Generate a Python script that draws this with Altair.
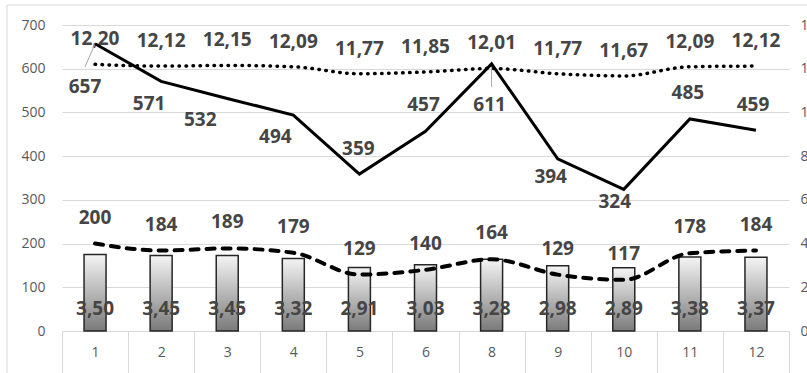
import altair as alt
import pandas as pd

# ---- data ----
CATS = ["1", "2", "3", "4", "5", "6", "8", "9", "10", "11", "12"]
BAR_VALUES = [3.50, 3.45, 3.45, 3.32, 2.91, 3.03, 3.28, 2.98, 2.89, 3.38, 3.37]          # right axis
DOTTED_VALUES = [12.20, 12.12, 12.15, 12.09, 11.77, 11.85, 12.01, 11.77, 11.67, 12.09, 12.12]  # right axis
SOLID_VALUES = [657, 571, 532, 494, 359, 457, 611, 394, 324, 485, 459]                    # left axis
DASHED_VALUES = [200, 184, 189, 179, 129, 140, 164, 129, 117, 178, 184]                   # left axis
LEFT_TICKS = [0, 100, 200, 300, 400, 500, 600, 700]
RIGHT_TICKS = [0, 2, 4, 6, 8, 10, 12, 14]


def comma(v):
    return f"{v:.2f}".replace(".", ",")


df = pd.DataFrame({
    "cat": CATS,
    "idx": list(range(len(CATS))),
    "bar": BAR_VALUES,
    "dotted": DOTTED_VALUES,
    "solid": SOLID_VALUES,
    "dashed": DASHED_VALUES,
    "bar_lbl": [comma(v) for v in BAR_VALUES],
    "dotted_lbl": [comma(v) for v in DOTTED_VALUES],
    "solid_lbl": [str(v) for v in SOLID_VALUES],
    "dashed_lbl": [str(v) for v in DASHED_VALUES],
})

# ---- styling ----
FONT = "Open Sans"
LBL_COLOR = "#454545"
AX_COLOR = "#595959"
GRID = "#d9d9d9"
LBL_SIZE = 19

# label placement for the solid series (dx, dy) per point index
SOLID_OFFSETS = [(-10, 43), (-12, 23), (-27, 22), (-18, 22), (-1, -25), (-2, -26),
                 (-2, 41), (-7, 18), (-9, 13), (-2, -26), (-3, -25)]
# leader lines (point index -> end offset dx, dy from the point)
LEADERS = {0: (-10, 23), 6: (0, 23)}

base = alt.Chart(df)
xscale = alt.Scale(paddingInner=0, paddingOuter=0)
XAXIS = alt.Axis(title=None, orient="bottom", domainColor=GRID, domainWidth=1,
                 ticks=True, tickBand="extent", tickSize=45, tickColor=GRID,
                 tickWidth=1, labelAngle=0, labelFont=FONT, labelFontSize=14,
                 labelColor=AX_COLOR, labelBaseline="middle", labelPadding=-24,
                 grid=False)
xenc = alt.X("cat:N", sort=CATS, scale=xscale, axis=XAXIS)

yl_scale = alt.Scale(domain=[0, 700], nice=False, zero=True)
yr_scale = alt.Scale(domain=[0, 14], nice=False, zero=True)


def yl(field):
    return alt.Y(field, type="quantitative", scale=yl_scale, axis=None)


def yr(field):
    return alt.Y(field, type="quantitative", scale=yr_scale, axis=None)


# ---------- left-scale layers ----------
gridlayer = base.mark_line(opacity=0).encode(
    x=xenc,
    y=alt.Y("solid:Q", scale=yl_scale,
            axis=alt.Axis(title=None, orient="left", values=LEFT_TICKS, grid=True,
                          gridColor=GRID, gridWidth=1, domain=False, ticks=False,
                          labelFont=FONT, labelFontSize=14, labelColor=AX_COLOR,
                          labelPadding=17)))

border = alt.Chart(pd.DataFrame({"k": [0]})).mark_rect(
    filled=False, stroke=GRID, strokeWidth=1).encode(
    x=alt.value(-55), x2=alt.value(780), y=alt.value(-20), y2=alt.value(420))

leaders = []
for i, (ldx, ldy) in LEADERS.items():
    leaders.append(
        base.transform_filter(alt.datum.idx == i).mark_rule(
            color="#a6a6a6", strokeWidth=1, x2Offset=ldx, y2Offset=ldy).encode(
            x=xenc, x2=alt.X2("cat"), y=yl("solid"), y2=alt.Y2("solid")))

solid = base.mark_line(color="black", strokeWidth=3).encode(x=xenc, y=yl("solid"))

solid_labels = []
for i, (dx, dy) in enumerate(SOLID_OFFSETS):
    solid_labels.append(
        base.transform_filter(alt.datum.idx == i).mark_text(
            font=FONT, fontSize=LBL_SIZE, fontWeight="bold", color=LBL_COLOR,
            baseline="middle", dx=dx, dy=dy).encode(
            x=xenc, y=yl("solid"), text="solid_lbl:N"))

dashed = base.mark_line(color="black", strokeWidth=4, strokeDash=[8, 8],
                        strokeCap="round", interpolate="monotone").encode(
    x=xenc, y=yl("dashed"))
dashed_labels = base.mark_text(font=FONT, fontSize=LBL_SIZE, fontWeight="bold",
                               color=LBL_COLOR, baseline="middle", dy=-26).encode(
    x=xenc, y=yl("dashed"), text="dashed_lbl:N")

# ---------- right-scale layers ----------
grad = alt.Gradient(gradient="linear",
                    stops=[alt.GradientStop(color="#f4f4f4", offset=0),
                           alt.GradientStop(color="#7a7a7a", offset=1)],
                    x1=0, x2=0, y1=0, y2=1)

bars = base.mark_bar(size=22, fill=grad, stroke="#262626", strokeWidth=1.5).encode(
    x=xenc,
    y=alt.Y("bar:Q", scale=yr_scale,
            axis=alt.Axis(title=None, orient="right", values=RIGHT_TICKS, grid=False,
                          domain=False, ticks=False, labelFont=FONT, labelFontSize=14,
                          labelColor=AX_COLOR, labelPadding=11)),
)
bar_labels = base.mark_text(font=FONT, fontSize=LBL_SIZE, fontWeight="bold",
                            color=LBL_COLOR, baseline="middle", dy=-22).encode(
    x=xenc, y=alt.YDatum(0, type="quantitative", scale=yr_scale, axis=None),
    text="bar_lbl:N")

dotted = base.mark_line(color="black", strokeWidth=3.5, strokeDash=[0.5, 6.5],
                        strokeCap="round", interpolate="monotone").encode(
    x=xenc, y=yr("dotted"))
dotted_labels = base.mark_text(font=FONT, fontSize=LBL_SIZE, fontWeight="bold",
                               color=LBL_COLOR, baseline="middle", dy=-25).encode(
    x=xenc, y=yr("dotted"), text="dotted_lbl:N")

chart = alt.layer(
    gridlayer, border, bars, bar_labels, dashed, dashed_labels, dotted, dotted_labels,
    *leaders, solid, *solid_labels,
).resolve_scale(y="independent").properties(
    width=727, height=306,
    autosize=alt.AutoSizeParams(type="none"),
    padding={"left": 62, "top": 25, "right": 18, "bottom": 42},
    background="white",
).configure_view(stroke=None)

chart.save("out.html", embed_options={"renderer": "svg", "actions": False})
